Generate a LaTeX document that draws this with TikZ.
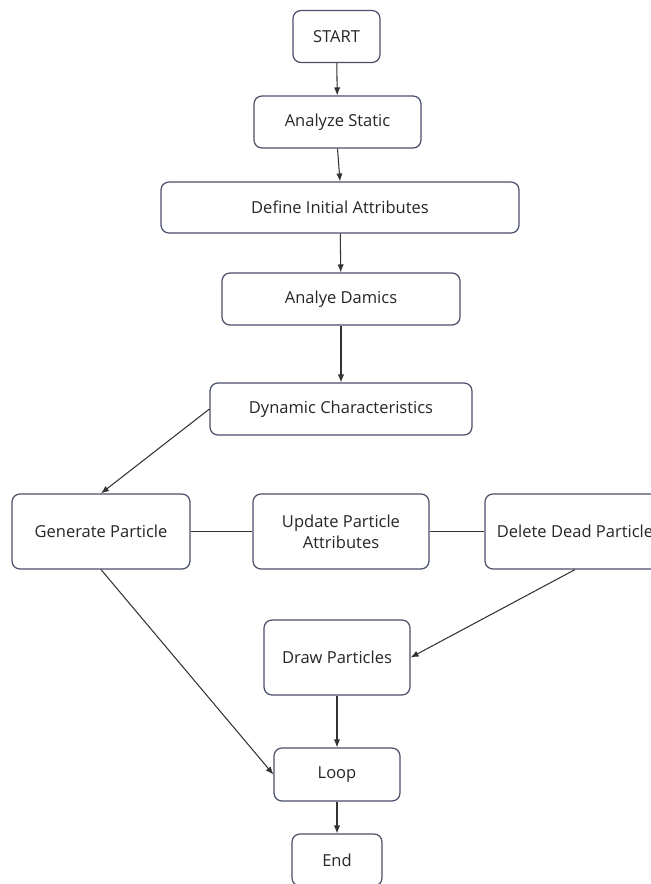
\documentclass[tikz,border=0pt]{standalone}
\usepackage{fontspec}
\setmainfont{Open Sans}
\usepackage{tikz}
\usetikzlibrary{arrows.meta}
\definecolor{boxline}{HTML}{4A4F6A}
\definecolor{arrowline}{HTML}{333333}
\definecolor{boxtext}{HTML}{262626}

\begin{document}
\begin{tikzpicture}[x=0.02cm, y=-0.02cm,
		stepbox/.style={draw=boxline, line width=0.7pt, rounded corners=4.5pt, fill=white, text=boxtext, font=\fontsize{9.4}{12}\selectfont, align=center, inner sep=1pt},
		flow/.style={draw=arrowline, line width=0.6pt, -{Latex[length=4.5pt, width=3.6pt]}},
		link/.style={draw=arrowline, line width=0.6pt}]
		%%%%% START %%%%%
		
		\useasboundingbox (0, 0) rectangle (650, 884);
		
		\node[stepbox, minimum width=1.74cm, minimum height=1.04cm] (start) at (336.5, 36.5) {START};
		\node[stepbox, minimum width=3.34cm, minimum height=1.04cm] (static) at (337.5, 122) {Analyze Static};
		\node[stepbox, minimum width=7.16cm, minimum height=1.02cm] (define) at (340, 207.5) {Define Initial Attributes};
		\node[stepbox, minimum width=4.76cm, minimum height=1.04cm] (damics) at (341, 299) {Analye Damics};
		\node[stepbox, minimum width=5.24cm, minimum height=1.04cm] (dynamic) at (341, 409) {Dynamic Characteristics};
		
		\node[stepbox, minimum width=3.56cm, minimum height=1.5cm] (generate) at (101, 531.5) {Generate Particle};
		\node[stepbox, minimum width=3.52cm, minimum height=1.5cm] (update) at (341, 531.5) {Update Particle\\Attributes};
		\node[stepbox, minimum width=3.6cm, minimum height=1.5cm] (delete) at (575, 531.5) {Delete Dead Particle};
		
		\node[stepbox, minimum width=2.92cm, minimum height=1.5cm] (draw) at (337, 657.5) {Draw Particles};
		\node[stepbox, minimum width=2.52cm, minimum height=1.06cm] (loop) at (337, 774.5) {Loop};
		\node[stepbox, minimum width=1.8cm, minimum height=1.04cm] (end) at (337, 860) {End};
		
		\draw[flow] (start) -- (static);
		\draw[flow] (static.south) -- (define.north);
		\draw[flow] (define) -- (damics);
		\draw[flow] (damics) -- (dynamic);
		\draw[flow] (dynamic.west) -- (generate.north);
		
		\draw[link] (generate) -- (update);
		\draw[link] (update) -- (delete);
		
		\draw[flow] (delete.south) -- (draw.east);
		\draw[flow] (generate.south) -- (loop.west);
		\draw[flow] (draw) -- (loop);
		\draw[flow] (loop) -- (end);
		
		%%%%% END %%%%%
	\end{tikzpicture}
\end{document}
